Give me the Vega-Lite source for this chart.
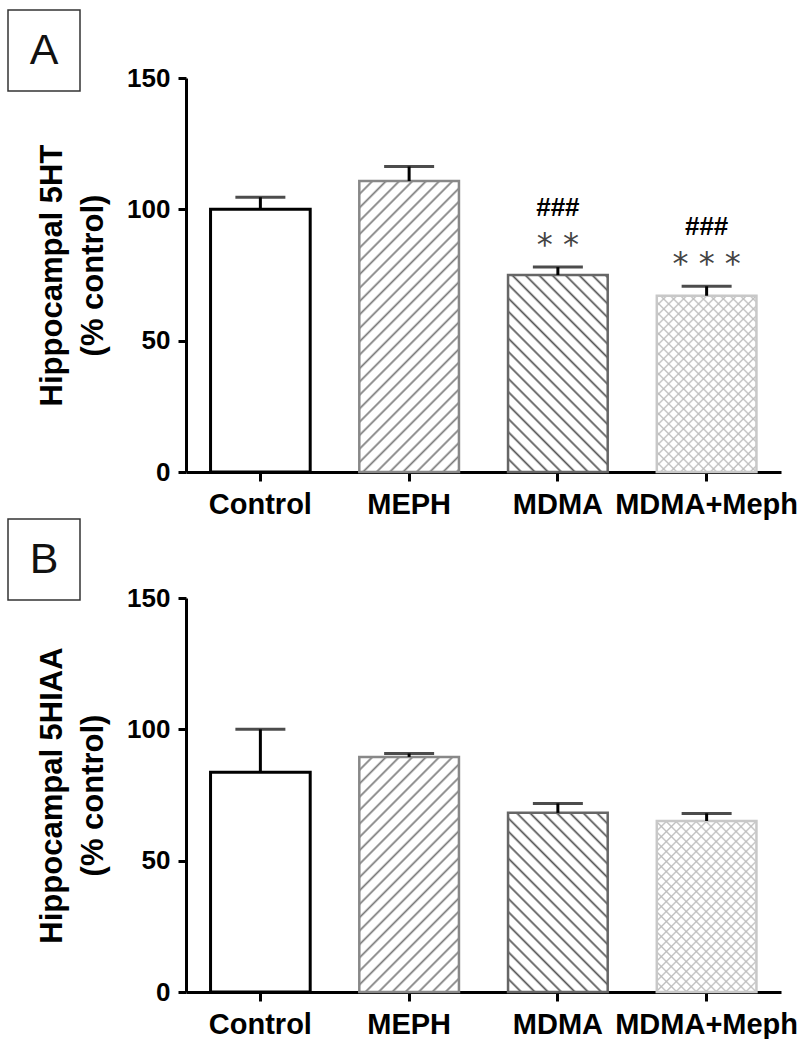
{
"$schema":"https://vega.github.io/schema/vega-lite/v6.json",
"padding":{"left":7,"top":9,"right":0,"bottom":0},
"config":{"view":{"stroke":null},"font":"Liberation Sans",
"axis":{"domainColor":"#000","domainWidth":3,"tickColor":"#000","tickWidth":3,"tickSize":8,"labelColor":"#000","labelFont":"Liberation Sans","labelFontWeight":"bold","grid":false,"titleColor":"#000","titleFontWeight":"bold","titleFont":"Liberation Sans","labelLimit":400},
"axisX":{"labelFontSize":29,"labelPadding":9,"tickSize":9},
"axisY":{"labelFontSize":26,"labelPadding":8,"titleFontSize":31,"titleLineHeight":41,"titlePadding":17}},
"datasets":{
"a":[{"group":"Control","mean":100,"upper":104.6},{"group":"MEPH","mean":110.8,"upper":116.3},{"group":"MDMA","mean":75,"upper":78,"hash":"###","star":"* *"},{"group":"MDMA+Meph","mean":67.1,"upper":70.7,"hash":"###","star":"* * *"}],
"b":[{"group":"Control","mean":83.7,"upper":100},{"group":"MEPH","mean":89.5,"upper":90.8},{"group":"MDMA","mean":68.2,"upper":71.8},{"group":"MDMA+Meph","mean":65.1,"upper":68}]},
"spacing":-2,
"vconcat":[
{"spacing":-45,"hconcat":[
{"width":72,"height":81,"view":{"stroke":"#333","strokeWidth":1.5},"data":{"values":[{"label":"A"}]},"mark":{"type":"text","fontSize":43,"font":"Liberation Sans","baseline":"middle","color":"#111"},"encoding":{"text":{"field":"label"}}},
{"spacing":0,"vconcat":[
{"width":595,"height":55,"data":{"values":[{"t":""}]},"mark":{"type":"text"},"encoding":{"text":{"field":"t"}}},
{"width":595,"height":394,"data":{"name":"a"},
"encoding":{"x":{"field":"group","type":"nominal","sort":["Control","MEPH","MDMA","MDMA+Meph"],"scale":{"paddingInner":0.33,"paddingOuter":0.165},"axis":{"title":null,"labelAngle":0}}},
"layer":[
{"transform":[{"filter":"datum.group==='Control'"}],"mark":{"type":"bar","fill":"#fff","stroke":"#000","strokeWidth":3},"encoding":{"y":{"field":"mean","type":"quantitative","scale":{"domain":[0,150],"nice":false},"axis":{"values":[0,50,100,150],"title":["Hippocampal 5HT","(% control)"]}}}},
{"transform":[{"filter":"datum.group==='MEPH'"}],"mark":{"type":"bar","stroke":"#888","strokeWidth":2.5,"fill":{"gradient":"linear","x1":0,"y1":0,"x2":0.4246,"y2":1.2355,"stops":[{"offset":0,"color":"#7a7a7a"},{"offset":0.006,"color":"#fff"},{"offset":0.027,"color":"#fff"},{"offset":0.033,"color":"#7a7a7a"},{"offset":0.039,"color":"#fff"},{"offset":0.061,"color":"#fff"},{"offset":0.067,"color":"#7a7a7a"},{"offset":0.073,"color":"#fff"},{"offset":0.094,"color":"#fff"},{"offset":0.1,"color":"#7a7a7a"},{"offset":0.106,"color":"#fff"},{"offset":0.127,"color":"#fff"},{"offset":0.133,"color":"#7a7a7a"},{"offset":0.139,"color":"#fff"},{"offset":0.161,"color":"#fff"},{"offset":0.167,"color":"#7a7a7a"},{"offset":0.173,"color":"#fff"},{"offset":0.194,"color":"#fff"},{"offset":0.2,"color":"#7a7a7a"},{"offset":0.206,"color":"#fff"},{"offset":0.227,"color":"#fff"},{"offset":0.233,"color":"#7a7a7a"},{"offset":0.239,"color":"#fff"},{"offset":0.261,"color":"#fff"},{"offset":0.267,"color":"#7a7a7a"},{"offset":0.273,"color":"#fff"},{"offset":0.294,"color":"#fff"},{"offset":0.3,"color":"#7a7a7a"},{"offset":0.306,"color":"#fff"},{"offset":0.327,"color":"#fff"},{"offset":0.333,"color":"#7a7a7a"},{"offset":0.339,"color":"#fff"},{"offset":0.361,"color":"#fff"},{"offset":0.367,"color":"#7a7a7a"},{"offset":0.373,"color":"#fff"},{"offset":0.394,"color":"#fff"},{"offset":0.4,"color":"#7a7a7a"},{"offset":0.406,"color":"#fff"},{"offset":0.427,"color":"#fff"},{"offset":0.433,"color":"#7a7a7a"},{"offset":0.439,"color":"#fff"},{"offset":0.461,"color":"#fff"},{"offset":0.467,"color":"#7a7a7a"},{"offset":0.473,"color":"#fff"},{"offset":0.494,"color":"#fff"},{"offset":0.5,"color":"#7a7a7a"},{"offset":0.506,"color":"#fff"},{"offset":0.527,"color":"#fff"},{"offset":0.533,"color":"#7a7a7a"},{"offset":0.539,"color":"#fff"},{"offset":0.561,"color":"#fff"},{"offset":0.567,"color":"#7a7a7a"},{"offset":0.573,"color":"#fff"},{"offset":0.594,"color":"#fff"},{"offset":0.6,"color":"#7a7a7a"},{"offset":0.606,"color":"#fff"},{"offset":0.627,"color":"#fff"},{"offset":0.633,"color":"#7a7a7a"},{"offset":0.639,"color":"#fff"},{"offset":0.661,"color":"#fff"},{"offset":0.667,"color":"#7a7a7a"},{"offset":0.673,"color":"#fff"},{"offset":0.694,"color":"#fff"},{"offset":0.7,"color":"#7a7a7a"},{"offset":0.706,"color":"#fff"},{"offset":0.727,"color":"#fff"},{"offset":0.733,"color":"#7a7a7a"},{"offset":0.739,"color":"#fff"},{"offset":0.761,"color":"#fff"},{"offset":0.767,"color":"#7a7a7a"},{"offset":0.773,"color":"#fff"},{"offset":0.794,"color":"#fff"},{"offset":0.8,"color":"#7a7a7a"},{"offset":0.806,"color":"#fff"},{"offset":0.827,"color":"#fff"},{"offset":0.833,"color":"#7a7a7a"},{"offset":0.839,"color":"#fff"},{"offset":0.861,"color":"#fff"},{"offset":0.867,"color":"#7a7a7a"},{"offset":0.873,"color":"#fff"},{"offset":0.894,"color":"#fff"},{"offset":0.9,"color":"#7a7a7a"},{"offset":0.906,"color":"#fff"},{"offset":0.927,"color":"#fff"},{"offset":0.933,"color":"#7a7a7a"},{"offset":0.939,"color":"#fff"},{"offset":0.961,"color":"#fff"},{"offset":0.967,"color":"#7a7a7a"},{"offset":0.973,"color":"#fff"},{"offset":0.994,"color":"#fff"},{"offset":1,"color":"#7a7a7a"}]}},"encoding":{"y":{"field":"mean","type":"quantitative"}}},
{"transform":[{"filter":"datum.group==='MDMA'"}],"mark":{"type":"bar","stroke":"#666","strokeWidth":2.5,"fill":{"gradient":"linear","x1":0,"y1":1,"x2":0.8236,"y2":-0.6225,"stops":[{"offset":0,"color":"#555"},{"offset":0.006,"color":"#fff"},{"offset":0.027,"color":"#fff"},{"offset":0.033,"color":"#555"},{"offset":0.039,"color":"#fff"},{"offset":0.061,"color":"#fff"},{"offset":0.067,"color":"#555"},{"offset":0.073,"color":"#fff"},{"offset":0.094,"color":"#fff"},{"offset":0.1,"color":"#555"},{"offset":0.106,"color":"#fff"},{"offset":0.127,"color":"#fff"},{"offset":0.133,"color":"#555"},{"offset":0.139,"color":"#fff"},{"offset":0.161,"color":"#fff"},{"offset":0.167,"color":"#555"},{"offset":0.173,"color":"#fff"},{"offset":0.194,"color":"#fff"},{"offset":0.2,"color":"#555"},{"offset":0.206,"color":"#fff"},{"offset":0.227,"color":"#fff"},{"offset":0.233,"color":"#555"},{"offset":0.239,"color":"#fff"},{"offset":0.261,"color":"#fff"},{"offset":0.267,"color":"#555"},{"offset":0.273,"color":"#fff"},{"offset":0.294,"color":"#fff"},{"offset":0.3,"color":"#555"},{"offset":0.306,"color":"#fff"},{"offset":0.327,"color":"#fff"},{"offset":0.333,"color":"#555"},{"offset":0.339,"color":"#fff"},{"offset":0.361,"color":"#fff"},{"offset":0.367,"color":"#555"},{"offset":0.373,"color":"#fff"},{"offset":0.394,"color":"#fff"},{"offset":0.4,"color":"#555"},{"offset":0.406,"color":"#fff"},{"offset":0.427,"color":"#fff"},{"offset":0.433,"color":"#555"},{"offset":0.439,"color":"#fff"},{"offset":0.461,"color":"#fff"},{"offset":0.467,"color":"#555"},{"offset":0.473,"color":"#fff"},{"offset":0.494,"color":"#fff"},{"offset":0.5,"color":"#555"},{"offset":0.506,"color":"#fff"},{"offset":0.527,"color":"#fff"},{"offset":0.533,"color":"#555"},{"offset":0.539,"color":"#fff"},{"offset":0.561,"color":"#fff"},{"offset":0.567,"color":"#555"},{"offset":0.573,"color":"#fff"},{"offset":0.594,"color":"#fff"},{"offset":0.6,"color":"#555"},{"offset":0.606,"color":"#fff"},{"offset":0.627,"color":"#fff"},{"offset":0.633,"color":"#555"},{"offset":0.639,"color":"#fff"},{"offset":0.661,"color":"#fff"},{"offset":0.667,"color":"#555"},{"offset":0.673,"color":"#fff"},{"offset":0.694,"color":"#fff"},{"offset":0.7,"color":"#555"},{"offset":0.706,"color":"#fff"},{"offset":0.727,"color":"#fff"},{"offset":0.733,"color":"#555"},{"offset":0.739,"color":"#fff"},{"offset":0.761,"color":"#fff"},{"offset":0.767,"color":"#555"}]}},"encoding":{"y":{"field":"mean","type":"quantitative"}}},
{"transform":[{"filter":"datum.group==='MDMA+Meph'"}],"mark":{"type":"bar","fill":{"gradient":"linear","x1":0,"y1":0,"x2":0.7303,"y2":1.2874,"stops":[{"offset":0,"color":"#bbb"},{"offset":0.006,"color":"#fff"},{"offset":0.027,"color":"#fff"},{"offset":0.033,"color":"#bbb"},{"offset":0.039,"color":"#fff"},{"offset":0.061,"color":"#fff"},{"offset":0.067,"color":"#bbb"},{"offset":0.073,"color":"#fff"},{"offset":0.094,"color":"#fff"},{"offset":0.1,"color":"#bbb"},{"offset":0.106,"color":"#fff"},{"offset":0.127,"color":"#fff"},{"offset":0.133,"color":"#bbb"},{"offset":0.139,"color":"#fff"},{"offset":0.161,"color":"#fff"},{"offset":0.167,"color":"#bbb"},{"offset":0.173,"color":"#fff"},{"offset":0.194,"color":"#fff"},{"offset":0.2,"color":"#bbb"},{"offset":0.206,"color":"#fff"},{"offset":0.227,"color":"#fff"},{"offset":0.233,"color":"#bbb"},{"offset":0.239,"color":"#fff"},{"offset":0.261,"color":"#fff"},{"offset":0.267,"color":"#bbb"},{"offset":0.273,"color":"#fff"},{"offset":0.294,"color":"#fff"},{"offset":0.3,"color":"#bbb"},{"offset":0.306,"color":"#fff"},{"offset":0.327,"color":"#fff"},{"offset":0.333,"color":"#bbb"},{"offset":0.339,"color":"#fff"},{"offset":0.361,"color":"#fff"},{"offset":0.367,"color":"#bbb"},{"offset":0.373,"color":"#fff"},{"offset":0.394,"color":"#fff"},{"offset":0.4,"color":"#bbb"},{"offset":0.406,"color":"#fff"},{"offset":0.427,"color":"#fff"},{"offset":0.433,"color":"#bbb"},{"offset":0.439,"color":"#fff"},{"offset":0.461,"color":"#fff"},{"offset":0.467,"color":"#bbb"},{"offset":0.473,"color":"#fff"},{"offset":0.494,"color":"#fff"},{"offset":0.5,"color":"#bbb"},{"offset":0.506,"color":"#fff"},{"offset":0.527,"color":"#fff"},{"offset":0.533,"color":"#bbb"},{"offset":0.539,"color":"#fff"},{"offset":0.561,"color":"#fff"},{"offset":0.567,"color":"#bbb"},{"offset":0.573,"color":"#fff"},{"offset":0.594,"color":"#fff"},{"offset":0.6,"color":"#bbb"},{"offset":0.606,"color":"#fff"},{"offset":0.627,"color":"#fff"},{"offset":0.633,"color":"#bbb"},{"offset":0.639,"color":"#fff"},{"offset":0.661,"color":"#fff"},{"offset":0.667,"color":"#bbb"},{"offset":0.673,"color":"#fff"},{"offset":0.694,"color":"#fff"},{"offset":0.7,"color":"#bbb"},{"offset":0.706,"color":"#fff"},{"offset":0.727,"color":"#fff"},{"offset":0.733,"color":"#bbb"},{"offset":0.739,"color":"#fff"},{"offset":0.761,"color":"#fff"},{"offset":0.767,"color":"#bbb"},{"offset":0.773,"color":"#fff"},{"offset":0.794,"color":"#fff"},{"offset":0.8,"color":"#bbb"},{"offset":0.806,"color":"#fff"},{"offset":0.827,"color":"#fff"},{"offset":0.833,"color":"#bbb"},{"offset":0.839,"color":"#fff"},{"offset":0.861,"color":"#fff"},{"offset":0.867,"color":"#bbb"},{"offset":0.873,"color":"#fff"},{"offset":0.894,"color":"#fff"},{"offset":0.9,"color":"#bbb"},{"offset":0.906,"color":"#fff"},{"offset":0.927,"color":"#fff"},{"offset":0.933,"color":"#bbb"}]}},"encoding":{"y":{"field":"mean","type":"quantitative"}}},
{"transform":[{"filter":"datum.group==='MDMA+Meph'"}],"mark":{"type":"bar","stroke":"#c8c8c8","strokeWidth":2.5,"fill":{"gradient":"linear","x1":0,"y1":1,"x2":0.7303,"y2":-0.2874,"stops":[{"offset":0,"color":"#bbb"},{"offset":0.006,"color":"#bbb0"},{"offset":0.027,"color":"#bbb0"},{"offset":0.033,"color":"#bbb"},{"offset":0.039,"color":"#bbb0"},{"offset":0.061,"color":"#bbb0"},{"offset":0.067,"color":"#bbb"},{"offset":0.073,"color":"#bbb0"},{"offset":0.094,"color":"#bbb0"},{"offset":0.1,"color":"#bbb"},{"offset":0.106,"color":"#bbb0"},{"offset":0.127,"color":"#bbb0"},{"offset":0.133,"color":"#bbb"},{"offset":0.139,"color":"#bbb0"},{"offset":0.161,"color":"#bbb0"},{"offset":0.167,"color":"#bbb"},{"offset":0.173,"color":"#bbb0"},{"offset":0.194,"color":"#bbb0"},{"offset":0.2,"color":"#bbb"},{"offset":0.206,"color":"#bbb0"},{"offset":0.227,"color":"#bbb0"},{"offset":0.233,"color":"#bbb"},{"offset":0.239,"color":"#bbb0"},{"offset":0.261,"color":"#bbb0"},{"offset":0.267,"color":"#bbb"},{"offset":0.273,"color":"#bbb0"},{"offset":0.294,"color":"#bbb0"},{"offset":0.3,"color":"#bbb"},{"offset":0.306,"color":"#bbb0"},{"offset":0.327,"color":"#bbb0"},{"offset":0.333,"color":"#bbb"},{"offset":0.339,"color":"#bbb0"},{"offset":0.361,"color":"#bbb0"},{"offset":0.367,"color":"#bbb"},{"offset":0.373,"color":"#bbb0"},{"offset":0.394,"color":"#bbb0"},{"offset":0.4,"color":"#bbb"},{"offset":0.406,"color":"#bbb0"},{"offset":0.427,"color":"#bbb0"},{"offset":0.433,"color":"#bbb"},{"offset":0.439,"color":"#bbb0"},{"offset":0.461,"color":"#bbb0"},{"offset":0.467,"color":"#bbb"},{"offset":0.473,"color":"#bbb0"},{"offset":0.494,"color":"#bbb0"},{"offset":0.5,"color":"#bbb"},{"offset":0.506,"color":"#bbb0"},{"offset":0.527,"color":"#bbb0"},{"offset":0.533,"color":"#bbb"},{"offset":0.539,"color":"#bbb0"},{"offset":0.561,"color":"#bbb0"},{"offset":0.567,"color":"#bbb"},{"offset":0.573,"color":"#bbb0"},{"offset":0.594,"color":"#bbb0"},{"offset":0.6,"color":"#bbb"},{"offset":0.606,"color":"#bbb0"},{"offset":0.627,"color":"#bbb0"},{"offset":0.633,"color":"#bbb"},{"offset":0.639,"color":"#bbb0"},{"offset":0.661,"color":"#bbb0"},{"offset":0.667,"color":"#bbb"},{"offset":0.673,"color":"#bbb0"},{"offset":0.694,"color":"#bbb0"},{"offset":0.7,"color":"#bbb"},{"offset":0.706,"color":"#bbb0"},{"offset":0.727,"color":"#bbb0"},{"offset":0.733,"color":"#bbb"},{"offset":0.739,"color":"#bbb0"},{"offset":0.761,"color":"#bbb0"},{"offset":0.767,"color":"#bbb"},{"offset":0.773,"color":"#bbb0"},{"offset":0.794,"color":"#bbb0"},{"offset":0.8,"color":"#bbb"},{"offset":0.806,"color":"#bbb0"},{"offset":0.827,"color":"#bbb0"},{"offset":0.833,"color":"#bbb"},{"offset":0.839,"color":"#bbb0"},{"offset":0.861,"color":"#bbb0"},{"offset":0.867,"color":"#bbb"},{"offset":0.873,"color":"#bbb0"},{"offset":0.894,"color":"#bbb0"},{"offset":0.9,"color":"#bbb"},{"offset":0.906,"color":"#bbb0"},{"offset":0.927,"color":"#bbb0"},{"offset":0.933,"color":"#bbb"}]}},"encoding":{"y":{"field":"mean","type":"quantitative"}}},
{"mark":{"type":"rule","color":"#000","strokeWidth":3},"encoding":{"y":{"field":"mean","type":"quantitative"},"y2":{"field":"upper"}}},
{"mark":{"type":"tick","color":"#000","thickness":3,"size":50},"encoding":{"y":{"field":"upper","type":"quantitative"}}},
{"transform":[{"filter":"datum.hash"}],"mark":{"type":"text","fontSize":26,"fontWeight":"bold","font":"Liberation Sans","color":"#000","baseline":"alphabetic","dy":-51},"encoding":{"y":{"field":"upper","type":"quantitative"},"text":{"field":"hash"}}},
{"transform":[{"filter":"datum.star"}],"mark":{"type":"text","fontSize":32,"font":"DejaVu Sans","color":"#444","baseline":"alphabetic","dy":-12},"encoding":{"y":{"field":"upper","type":"quantitative"},"text":{"field":"star"}}}
]}]}]},
{"spacing":-45,"hconcat":[
{"width":72,"height":81,"view":{"stroke":"#333","strokeWidth":1.5},"data":{"values":[{"label":"B"}]},"mark":{"type":"text","fontSize":43,"font":"Liberation Sans","baseline":"middle","color":"#111"},"encoding":{"text":{"field":"label"}}},
{"spacing":0,"vconcat":[
{"width":595,"height":66,"data":{"values":[{"t":""}]},"mark":{"type":"text"},"encoding":{"text":{"field":"t"}}},
{"width":595,"height":394,"data":{"name":"b"},
"encoding":{"x":{"field":"group","type":"nominal","sort":["Control","MEPH","MDMA","MDMA+Meph"],"scale":{"paddingInner":0.33,"paddingOuter":0.165},"axis":{"title":null,"labelAngle":0}}},
"layer":[
{"transform":[{"filter":"datum.group==='Control'"}],"mark":{"type":"bar","fill":"#fff","stroke":"#000","strokeWidth":3},"encoding":{"y":{"field":"mean","type":"quantitative","scale":{"domain":[0,150],"nice":false},"axis":{"values":[0,50,100,150],"title":["Hippocampal 5HIAA","(% control)"]}}}},
{"transform":[{"filter":"datum.group==='MEPH'"}],"mark":{"type":"bar","stroke":"#888","strokeWidth":2.5,"fill":{"gradient":"linear","x1":0,"y1":0,"x2":0.6159,"y2":1.4479,"stops":[{"offset":0,"color":"#7a7a7a"},{"offset":0.006,"color":"#fff"},{"offset":0.027,"color":"#fff"},{"offset":0.033,"color":"#7a7a7a"},{"offset":0.039,"color":"#fff"},{"offset":0.061,"color":"#fff"},{"offset":0.067,"color":"#7a7a7a"},{"offset":0.073,"color":"#fff"},{"offset":0.094,"color":"#fff"},{"offset":0.1,"color":"#7a7a7a"},{"offset":0.106,"color":"#fff"},{"offset":0.127,"color":"#fff"},{"offset":0.133,"color":"#7a7a7a"},{"offset":0.139,"color":"#fff"},{"offset":0.161,"color":"#fff"},{"offset":0.167,"color":"#7a7a7a"},{"offset":0.173,"color":"#fff"},{"offset":0.194,"color":"#fff"},{"offset":0.2,"color":"#7a7a7a"},{"offset":0.206,"color":"#fff"},{"offset":0.227,"color":"#fff"},{"offset":0.233,"color":"#7a7a7a"},{"offset":0.239,"color":"#fff"},{"offset":0.261,"color":"#fff"},{"offset":0.267,"color":"#7a7a7a"},{"offset":0.273,"color":"#fff"},{"offset":0.294,"color":"#fff"},{"offset":0.3,"color":"#7a7a7a"},{"offset":0.306,"color":"#fff"},{"offset":0.327,"color":"#fff"},{"offset":0.333,"color":"#7a7a7a"},{"offset":0.339,"color":"#fff"},{"offset":0.361,"color":"#fff"},{"offset":0.367,"color":"#7a7a7a"},{"offset":0.373,"color":"#fff"},{"offset":0.394,"color":"#fff"},{"offset":0.4,"color":"#7a7a7a"},{"offset":0.406,"color":"#fff"},{"offset":0.427,"color":"#fff"},{"offset":0.433,"color":"#7a7a7a"},{"offset":0.439,"color":"#fff"},{"offset":0.461,"color":"#fff"},{"offset":0.467,"color":"#7a7a7a"},{"offset":0.473,"color":"#fff"},{"offset":0.494,"color":"#fff"},{"offset":0.5,"color":"#7a7a7a"},{"offset":0.506,"color":"#fff"},{"offset":0.527,"color":"#fff"},{"offset":0.533,"color":"#7a7a7a"},{"offset":0.539,"color":"#fff"},{"offset":0.561,"color":"#fff"},{"offset":0.567,"color":"#7a7a7a"},{"offset":0.573,"color":"#fff"},{"offset":0.594,"color":"#fff"},{"offset":0.6,"color":"#7a7a7a"},{"offset":0.606,"color":"#fff"},{"offset":0.627,"color":"#fff"},{"offset":0.633,"color":"#7a7a7a"},{"offset":0.639,"color":"#fff"},{"offset":0.661,"color":"#fff"},{"offset":0.667,"color":"#7a7a7a"},{"offset":0.673,"color":"#fff"},{"offset":0.694,"color":"#fff"},{"offset":0.7,"color":"#7a7a7a"},{"offset":0.706,"color":"#fff"},{"offset":0.727,"color":"#fff"},{"offset":0.733,"color":"#7a7a7a"},{"offset":0.739,"color":"#fff"},{"offset":0.761,"color":"#fff"},{"offset":0.767,"color":"#7a7a7a"},{"offset":0.773,"color":"#fff"},{"offset":0.794,"color":"#fff"},{"offset":0.8,"color":"#7a7a7a"},{"offset":0.806,"color":"#fff"},{"offset":0.827,"color":"#fff"},{"offset":0.833,"color":"#7a7a7a"},{"offset":0.839,"color":"#fff"},{"offset":0.861,"color":"#fff"},{"offset":0.867,"color":"#7a7a7a"}]}},"encoding":{"y":{"field":"mean","type":"quantitative"}}},
{"transform":[{"filter":"datum.group==='MDMA'"}],"mark":{"type":"bar","stroke":"#666","strokeWidth":2.5,"fill":{"gradient":"linear","x1":0,"y1":1,"x2":0.9554,"y2":-0.7111,"stops":[{"offset":0,"color":"#555"},{"offset":0.006,"color":"#fff"},{"offset":0.027,"color":"#fff"},{"offset":0.033,"color":"#555"},{"offset":0.039,"color":"#fff"},{"offset":0.061,"color":"#fff"},{"offset":0.067,"color":"#555"},{"offset":0.073,"color":"#fff"},{"offset":0.094,"color":"#fff"},{"offset":0.1,"color":"#555"},{"offset":0.106,"color":"#fff"},{"offset":0.127,"color":"#fff"},{"offset":0.133,"color":"#555"},{"offset":0.139,"color":"#fff"},{"offset":0.161,"color":"#fff"},{"offset":0.167,"color":"#555"},{"offset":0.173,"color":"#fff"},{"offset":0.194,"color":"#fff"},{"offset":0.2,"color":"#555"},{"offset":0.206,"color":"#fff"},{"offset":0.227,"color":"#fff"},{"offset":0.233,"color":"#555"},{"offset":0.239,"color":"#fff"},{"offset":0.261,"color":"#fff"},{"offset":0.267,"color":"#555"},{"offset":0.273,"color":"#fff"},{"offset":0.294,"color":"#fff"},{"offset":0.3,"color":"#555"},{"offset":0.306,"color":"#fff"},{"offset":0.327,"color":"#fff"},{"offset":0.333,"color":"#555"},{"offset":0.339,"color":"#fff"},{"offset":0.361,"color":"#fff"},{"offset":0.367,"color":"#555"},{"offset":0.373,"color":"#fff"},{"offset":0.394,"color":"#fff"},{"offset":0.4,"color":"#555"},{"offset":0.406,"color":"#fff"},{"offset":0.427,"color":"#fff"},{"offset":0.433,"color":"#555"},{"offset":0.439,"color":"#fff"},{"offset":0.461,"color":"#fff"},{"offset":0.467,"color":"#555"},{"offset":0.473,"color":"#fff"},{"offset":0.494,"color":"#fff"},{"offset":0.5,"color":"#555"},{"offset":0.506,"color":"#fff"},{"offset":0.527,"color":"#fff"},{"offset":0.533,"color":"#555"},{"offset":0.539,"color":"#fff"},{"offset":0.561,"color":"#fff"},{"offset":0.567,"color":"#555"},{"offset":0.573,"color":"#fff"},{"offset":0.594,"color":"#fff"},{"offset":0.6,"color":"#555"},{"offset":0.606,"color":"#fff"},{"offset":0.627,"color":"#fff"},{"offset":0.633,"color":"#555"},{"offset":0.639,"color":"#fff"},{"offset":0.661,"color":"#fff"},{"offset":0.667,"color":"#555"},{"offset":0.673,"color":"#fff"},{"offset":0.694,"color":"#fff"},{"offset":0.7,"color":"#555"}]}},"encoding":{"y":{"field":"mean","type":"quantitative"}}},
{"transform":[{"filter":"datum.group==='MDMA+Meph'"}],"mark":{"type":"bar","fill":{"gradient":"linear","x1":0,"y1":0,"x2":0.7645,"y2":1.3073,"stops":[{"offset":0,"color":"#bbb"},{"offset":0.006,"color":"#fff"},{"offset":0.027,"color":"#fff"},{"offset":0.033,"color":"#bbb"},{"offset":0.039,"color":"#fff"},{"offset":0.061,"color":"#fff"},{"offset":0.067,"color":"#bbb"},{"offset":0.073,"color":"#fff"},{"offset":0.094,"color":"#fff"},{"offset":0.1,"color":"#bbb"},{"offset":0.106,"color":"#fff"},{"offset":0.127,"color":"#fff"},{"offset":0.133,"color":"#bbb"},{"offset":0.139,"color":"#fff"},{"offset":0.161,"color":"#fff"},{"offset":0.167,"color":"#bbb"},{"offset":0.173,"color":"#fff"},{"offset":0.194,"color":"#fff"},{"offset":0.2,"color":"#bbb"},{"offset":0.206,"color":"#fff"},{"offset":0.227,"color":"#fff"},{"offset":0.233,"color":"#bbb"},{"offset":0.239,"color":"#fff"},{"offset":0.261,"color":"#fff"},{"offset":0.267,"color":"#bbb"},{"offset":0.273,"color":"#fff"},{"offset":0.294,"color":"#fff"},{"offset":0.3,"color":"#bbb"},{"offset":0.306,"color":"#fff"},{"offset":0.327,"color":"#fff"},{"offset":0.333,"color":"#bbb"},{"offset":0.339,"color":"#fff"},{"offset":0.361,"color":"#fff"},{"offset":0.367,"color":"#bbb"},{"offset":0.373,"color":"#fff"},{"offset":0.394,"color":"#fff"},{"offset":0.4,"color":"#bbb"},{"offset":0.406,"color":"#fff"},{"offset":0.427,"color":"#fff"},{"offset":0.433,"color":"#bbb"},{"offset":0.439,"color":"#fff"},{"offset":0.461,"color":"#fff"},{"offset":0.467,"color":"#bbb"},{"offset":0.473,"color":"#fff"},{"offset":0.494,"color":"#fff"},{"offset":0.5,"color":"#bbb"},{"offset":0.506,"color":"#fff"},{"offset":0.527,"color":"#fff"},{"offset":0.533,"color":"#bbb"},{"offset":0.539,"color":"#fff"},{"offset":0.561,"color":"#fff"},{"offset":0.567,"color":"#bbb"},{"offset":0.573,"color":"#fff"},{"offset":0.594,"color":"#fff"},{"offset":0.6,"color":"#bbb"},{"offset":0.606,"color":"#fff"},{"offset":0.627,"color":"#fff"},{"offset":0.633,"color":"#bbb"},{"offset":0.639,"color":"#fff"},{"offset":0.661,"color":"#fff"},{"offset":0.667,"color":"#bbb"},{"offset":0.673,"color":"#fff"},{"offset":0.694,"color":"#fff"},{"offset":0.7,"color":"#bbb"},{"offset":0.706,"color":"#fff"},{"offset":0.727,"color":"#fff"},{"offset":0.733,"color":"#bbb"},{"offset":0.739,"color":"#fff"},{"offset":0.761,"color":"#fff"},{"offset":0.767,"color":"#bbb"},{"offset":0.773,"color":"#fff"},{"offset":0.794,"color":"#fff"},{"offset":0.8,"color":"#bbb"},{"offset":0.806,"color":"#fff"},{"offset":0.827,"color":"#fff"},{"offset":0.833,"color":"#bbb"},{"offset":0.839,"color":"#fff"},{"offset":0.861,"color":"#fff"},{"offset":0.867,"color":"#bbb"},{"offset":0.873,"color":"#fff"},{"offset":0.894,"color":"#fff"},{"offset":0.9,"color":"#bbb"},{"offset":0.906,"color":"#fff"},{"offset":0.927,"color":"#fff"},{"offset":0.933,"color":"#bbb"}]}},"encoding":{"y":{"field":"mean","type":"quantitative"}}},
{"transform":[{"filter":"datum.group==='MDMA+Meph'"}],"mark":{"type":"bar","stroke":"#c8c8c8","strokeWidth":2.5,"fill":{"gradient":"linear","x1":0,"y1":1,"x2":0.7645,"y2":-0.3073,"stops":[{"offset":0,"color":"#bbb"},{"offset":0.006,"color":"#bbb0"},{"offset":0.027,"color":"#bbb0"},{"offset":0.033,"color":"#bbb"},{"offset":0.039,"color":"#bbb0"},{"offset":0.061,"color":"#bbb0"},{"offset":0.067,"color":"#bbb"},{"offset":0.073,"color":"#bbb0"},{"offset":0.094,"color":"#bbb0"},{"offset":0.1,"color":"#bbb"},{"offset":0.106,"color":"#bbb0"},{"offset":0.127,"color":"#bbb0"},{"offset":0.133,"color":"#bbb"},{"offset":0.139,"color":"#bbb0"},{"offset":0.161,"color":"#bbb0"},{"offset":0.167,"color":"#bbb"},{"offset":0.173,"color":"#bbb0"},{"offset":0.194,"color":"#bbb0"},{"offset":0.2,"color":"#bbb"},{"offset":0.206,"color":"#bbb0"},{"offset":0.227,"color":"#bbb0"},{"offset":0.233,"color":"#bbb"},{"offset":0.239,"color":"#bbb0"},{"offset":0.261,"color":"#bbb0"},{"offset":0.267,"color":"#bbb"},{"offset":0.273,"color":"#bbb0"},{"offset":0.294,"color":"#bbb0"},{"offset":0.3,"color":"#bbb"},{"offset":0.306,"color":"#bbb0"},{"offset":0.327,"color":"#bbb0"},{"offset":0.333,"color":"#bbb"},{"offset":0.339,"color":"#bbb0"},{"offset":0.361,"color":"#bbb0"},{"offset":0.367,"color":"#bbb"},{"offset":0.373,"color":"#bbb0"},{"offset":0.394,"color":"#bbb0"},{"offset":0.4,"color":"#bbb"},{"offset":0.406,"color":"#bbb0"},{"offset":0.427,"color":"#bbb0"},{"offset":0.433,"color":"#bbb"},{"offset":0.439,"color":"#bbb0"},{"offset":0.461,"color":"#bbb0"},{"offset":0.467,"color":"#bbb"},{"offset":0.473,"color":"#bbb0"},{"offset":0.494,"color":"#bbb0"},{"offset":0.5,"color":"#bbb"},{"offset":0.506,"color":"#bbb0"},{"offset":0.527,"color":"#bbb0"},{"offset":0.533,"color":"#bbb"},{"offset":0.539,"color":"#bbb0"},{"offset":0.561,"color":"#bbb0"},{"offset":0.567,"color":"#bbb"},{"offset":0.573,"color":"#bbb0"},{"offset":0.594,"color":"#bbb0"},{"offset":0.6,"color":"#bbb"},{"offset":0.606,"color":"#bbb0"},{"offset":0.627,"color":"#bbb0"},{"offset":0.633,"color":"#bbb"},{"offset":0.639,"color":"#bbb0"},{"offset":0.661,"color":"#bbb0"},{"offset":0.667,"color":"#bbb"},{"offset":0.673,"color":"#bbb0"},{"offset":0.694,"color":"#bbb0"},{"offset":0.7,"color":"#bbb"},{"offset":0.706,"color":"#bbb0"},{"offset":0.727,"color":"#bbb0"},{"offset":0.733,"color":"#bbb"},{"offset":0.739,"color":"#bbb0"},{"offset":0.761,"color":"#bbb0"},{"offset":0.767,"color":"#bbb"},{"offset":0.773,"color":"#bbb0"},{"offset":0.794,"color":"#bbb0"},{"offset":0.8,"color":"#bbb"},{"offset":0.806,"color":"#bbb0"},{"offset":0.827,"color":"#bbb0"},{"offset":0.833,"color":"#bbb"},{"offset":0.839,"color":"#bbb0"},{"offset":0.861,"color":"#bbb0"},{"offset":0.867,"color":"#bbb"},{"offset":0.873,"color":"#bbb0"},{"offset":0.894,"color":"#bbb0"},{"offset":0.9,"color":"#bbb"},{"offset":0.906,"color":"#bbb0"},{"offset":0.927,"color":"#bbb0"},{"offset":0.933,"color":"#bbb"}]}},"encoding":{"y":{"field":"mean","type":"quantitative"}}},
{"mark":{"type":"rule","color":"#000","strokeWidth":3},"encoding":{"y":{"field":"mean","type":"quantitative"},"y2":{"field":"upper"}}},
{"mark":{"type":"tick","color":"#000","thickness":3,"size":50},"encoding":{"y":{"field":"upper","type":"quantitative"}}}
]}]}]}
]}
